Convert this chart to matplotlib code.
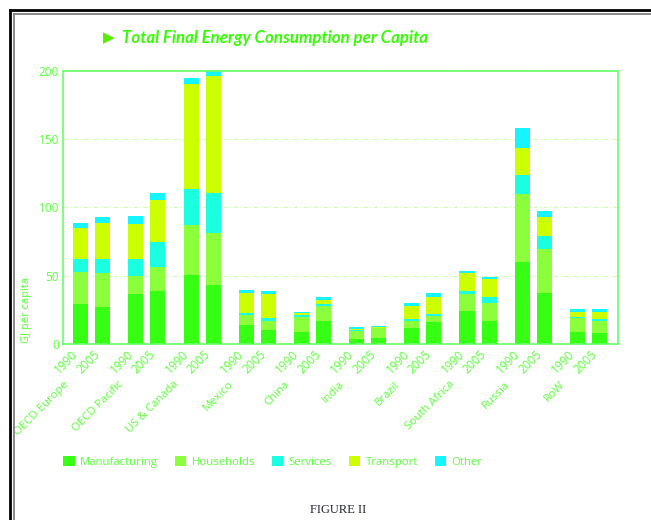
import matplotlib.pyplot as plt
from matplotlib.patches import Patch
from matplotlib.lines import Line2D
import numpy as np

regions = ['OECD Europe', 'OECD Pacific', 'US & Canada', 'Mexico', 'China',
           'India', 'Brazil', 'South Africa', 'Russia', 'RoW']
years = ['1990', '2005']
sectors = ['Manufacturing', 'Households', 'Services', 'Transport', 'Other']
colors = ['#36ff14', '#8cff3c', '#1affe0', '#ccff00', '#14f5ff']

# GJ per capita, bars ordered region by region: 1990, 2005
manufacturing = [29, 27.3, 36.6, 38.5, 50.5, 43.2, 13.9, 10.2, 9, 16.8,
                 3.7, 4.6, 12, 15.9, 24.4, 17, 60.2, 37, 9, 7.8]
households = [23.4, 24.4, 13.4, 17.8, 36.3, 38.3, 7.3, 6.8, 11, 11,
              6.1, 6.9, 5, 4.6, 11.9, 13.2, 49.3, 32.5, 9.8, 9]
services = [9.6, 10.7, 12.4, 18.6, 26.6, 29.2, 1.2, 1.8, 1, 1.2,
            0.4, 0.3, 1.5, 1.5, 2.7, 3.9, 14.2, 9.8, 0.7, 1.5]
transport = [22.6, 26.1, 25.6, 30.7, 77.1, 85.3, 14.6, 17.5, 1.5, 3.2,
             0.5, 0.4, 9.3, 12.6, 12.7, 13.5, 19.5, 13.4, 4.2, 5.4]
other = [3.9, 4.2, 5.4, 4.6, 3.9, 4.5, 2.5, 2.2, 1.2, 1.9,
         1.5, 0.7, 2, 2.4, 2, 1.7, 15.1, 4.6, 2.2, 2.2]
values = [manufacturing, households, services, transport, other]

green = '#5cff3c'
fig = plt.figure(figsize=(6.51, 5.2), dpi=100)
ax = fig.add_axes([63 / 651, 1 - 344 / 520, 555 / 651, 273.3 / 520])

x = np.array([2.5 * i + j for i in range(len(regions)) for j in range(2)])
bottom = np.zeros(len(x))
for name, vals, c in zip(sectors, values, colors):
    ax.bar(x, vals, width=0.68, bottom=bottom, color=c, label=name, zorder=2)
    bottom += np.array(vals)

ax.set_xlim(-0.8, 24.34)
ax.set_ylim(0, 200)
ax.set_yticks([0, 50, 100, 150, 200])
ax.yaxis.grid(True, color='#ccffaa', linestyle=(0, (4, 2, 1, 2)), linewidth=0.8, zorder=0)
ax.set_xticks(x)
ax.set_xticklabels(years * len(regions), rotation=45, ha='right')
ax.tick_params(length=0, colors=green, labelsize=8.5, pad=3)
for lbl in ax.get_xticklabels() + ax.get_yticklabels():
    lbl.set_family('Open Sans')
for s in ax.spines.values():
    s.set_color('#66ff66')
    s.set_linewidth(1.2)

for i, r in enumerate(regions):
    ax.annotate(r, xy=(2.5 * i + 0.5, 0), xycoords=('data', 'axes fraction'),
                xytext=(-21, -35), textcoords='offset pixels', rotation=45,
                ha='right', va='top', color=green, fontsize=8.2,
                family='Open Sans')

fig.text(27 / 651, 1 - 343 / 520, 'GJ per capita', rotation=90, color=green,
         fontsize=8, ha='center', va='bottom', family='Open Sans')

fig.text(103 / 651, 1 - 38 / 520, '\u25B6', color='#55ee00', fontsize=11,
         va='center', ha='left', family='DejaVu Sans')
fig.text(122 / 651, 1 - 38 / 520, 'Total Final Energy Consumption per Capita',
         color='#33ff00', fontsize=12.2, fontweight='bold', fontstyle='italic',
         va='center', ha='left', family='Lato')

handles = [Patch(facecolor=c, edgecolor='none') for c in colors]
leg = fig.legend(handles, sectors, loc='center left',
                 bbox_to_anchor=(53 / 651, 1 - 462 / 520), ncol=5,
                 frameon=False, handlelength=1.0, handleheight=1.0,
                 handletextpad=0.5, columnspacing=1.45,
                 prop={'family': 'Open Sans', 'size': 8.2})
for t in leg.get_texts():
    t.set_color(green)

fig.text(338 / 651, 1 - 510 / 520, 'FIGURE II', color='#222233', fontsize=9,
         ha='center', va='center', family='Liberation Serif')

# page frame
fig.add_artist(Line2D([10 / 651, 10 / 651], [0, 1 - 10 / 520], color='black', lw=2))
fig.add_artist(Line2D([10 / 651, 1], [1 - 10 / 520, 1 - 10 / 520], color='black', lw=2))
fig.add_artist(Line2D([13.5 / 651, 13.5 / 651], [0, 1 - 14 / 520], color='grey', lw=1.3))
fig.add_artist(Line2D([13.5 / 651, 1], [1 - 14 / 520, 1 - 14 / 520], color='grey', lw=1.3))

fig.savefig('out.png', dpi=100)
